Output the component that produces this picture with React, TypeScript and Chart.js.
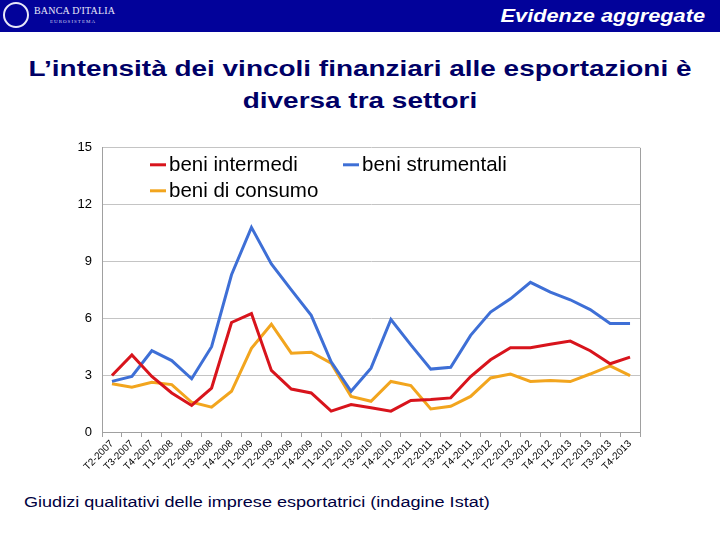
import React, { useEffect, useRef } from "react";
import { Chart, registerables } from "chart.js";
Chart.register(...registerables);

const categories = [
  "T2-2007", "T3-2007", "T4-2007",
  "T1-2008", "T2-2008", "T3-2008", "T4-2008",
  "T1-2009", "T2-2009", "T3-2009", "T4-2009",
  "T1-2010", "T2-2010", "T3-2010", "T4-2010",
  "T1-2011", "T2-2011", "T3-2011", "T4-2011",
  "T1-2012", "T2-2012", "T3-2012", "T4-2012",
  "T1-2013", "T2-2013", "T3-2013", "T4-2013",
];

const beniIntermedi = [
  2.98, 4.07, 2.93, 2.06, 1.4, 2.32, 5.78, 6.25, 3.25, 2.27, 2.06, 1.1, 1.45, 1.28,
  1.1, 1.66, 1.71, 1.8, 2.93, 3.81, 4.45, 4.45, 4.63, 4.8, 4.29, 3.6, 3.95,
];

const beniStrumentali = [
  2.67, 2.93, 4.29, 3.77, 2.81, 4.5, 8.3, 10.8, 8.87, 7.5, 6.16, 3.7, 2.15, 3.37,
  5.94, 4.6, 3.32, 3.42, 5.1, 6.33, 7.03, 7.9, 7.38, 6.98, 6.46, 5.73, 5.73,
];

const beniConsumo = [
  2.55, 2.36, 2.62, 2.5, 1.57, 1.31, 2.15, 4.42, 5.69, 4.16, 4.21, 3.63, 1.88, 1.62,
  2.67, 2.45, 1.22, 1.36, 1.88, 2.85, 3.06, 2.67, 2.72, 2.66, 3.06, 3.49, 2.98,
];

const seriesLabels = ["beni intermedi", "beni strumentali", "beni di consumo"];
const seriesColors = ["#d8141c", "#3e6fd6", "#f2a51e"];
const yTicks = [0, 3, 6, 9, 12, 15];

const frameAndLegend = {
  id: "frameAndLegend",
  afterDraw(chart: any) {
    const { ctx, chartArea } = chart;
    ctx.save();
    ctx.strokeStyle = "#a0a0a0";
    ctx.lineWidth = 1;
    ctx.beginPath();
    ctx.moveTo(Math.round(chartArea.right) + 0.5, chartArea.top);
    ctx.lineTo(Math.round(chartArea.right) + 0.5, chartArea.bottom);
    ctx.stroke();
    // legend
    const ds = chart.data.datasets;
    const pos = [
      { x: 48, y: 17 },
      { x: 241, y: 17 },
      { x: 48, y: 43 },
    ];
    ctx.font = "20.5px 'Liberation Sans', Arial, sans-serif";
    ctx.textBaseline = "middle";
    ds.forEach((d: any, i: number) => {
      const p = pos[i];
      const x = chartArea.left + p.x;
      const y = chartArea.top + p.y;
      ctx.strokeStyle = d.borderColor;
      ctx.lineWidth = 3;
      ctx.beginPath();
      ctx.moveTo(x, y);
      ctx.lineTo(x + 16, y);
      ctx.stroke();
      ctx.fillStyle = "#000000";
      ctx.fillText(d.label, x + 19, y + 1);
    });
    ctx.restore();
  },
};

export default function App() {
  const ref = useRef<HTMLCanvasElement | null>(null);
  useEffect(() => {
    document.body.style.margin = "0";
    if (!ref.current) return;
    const chart = new Chart(ref.current, {
      type: "line",
      data: {
        labels: categories,
        datasets: [beniIntermedi, beniStrumentali, beniConsumo].map((v, i) => ({
          label: seriesLabels[i],
          data: v,
          borderColor: seriesColors[i],
          backgroundColor: seriesColors[i],
          borderWidth: 3,
          pointRadius: 0,
          tension: 0,
          fill: false,
        })),
      },
      options: {
        animation: false,
        responsive: false,
        maintainAspectRatio: false,
        layout: { padding: { left: 0, right: 80, top: 16, bottom: 0 } },
        plugins: { legend: { display: false }, tooltip: { enabled: false } },
        scales: {
          x: {
            type: "category",
            offset: true,
            grid: {
              offset: true,
              drawOnChartArea: false,
              drawTicks: true,
              tickLength: 5,
              color: "#a0a0a0",
            },
            border: { display: true, color: "#a0a0a0" },
            ticks: {
              autoSkip: false,
              minRotation: 45,
              maxRotation: 45,
              padding: 1,
              color: "#000000",
              font: { size: 10, family: "'Liberation Sans', Arial, sans-serif" },
            },
            afterFit: (s: any) => {
              s.height = 58;
            },
          },
          y: {
            min: 0,
            max: 15,
            afterBuildTicks: (s: any) => {
              s.ticks = yTicks.map((v) => ({ value: v }));
            },
            grid: { color: "#c4c4c4", drawTicks: false, lineWidth: 1 },
            border: { display: true, color: "#a0a0a0" },
            ticks: {
              padding: 10,
              color: "#000000",
              font: { size: 13, family: "'Liberation Sans', Arial, sans-serif" },
            },
            afterFit: (s: any) => {
              s.width = 102;
            },
          },
        },
      },
      plugins: [frameAndLegend],
    });
    return () => chart.destroy();
  }, []);

  return (
    <div
      style={{
        position: "fixed",
        left: 0,
        top: 0,
        width: 720,
        height: 540,
        background: "#ffffff",
        overflow: "hidden",
        fontFamily: "'Liberation Sans', Arial, sans-serif",
      }}
    >
      <div
        style={{
          position: "absolute",
          left: 0,
          top: 0,
          width: 720,
          height: 32,
          background: "#02029a",
        }}
      >
        <div
          style={{
            position: "absolute",
            left: 3,
            top: 2,
            width: 26,
            height: 26,
            borderRadius: 13,
            border: "2px solid #e8e8f8",
            boxSizing: "border-box",
          }}
        />
        <div
          style={{
            position: "absolute",
            left: 34,
            top: 5,
            color: "#e8e8f8",
            fontFamily: "'Liberation Serif', serif",
            fontSize: 10,
            letterSpacing: 0.2,
          }}
        >
          BANCA D'ITALIA
        </div>
        <div
          style={{
            position: "absolute",
            left: 50,
            top: 19,
            color: "#d0d0f0",
            fontFamily: "'Liberation Serif', serif",
            fontSize: 5,
            letterSpacing: 1,
          }}
        >
          EUROSISTEMA
        </div>
        <div
          style={{
            position: "absolute",
            right: 15,
            top: 5,
            color: "#ffffff",
            fontSize: 18,
            lineHeight: "22px",
            fontWeight: "bold",
            fontStyle: "italic",
            transform: "scaleX(1.21)",
            transformOrigin: "right center",
            whiteSpace: "nowrap",
          }}
        >
          Evidenze aggregate
        </div>
      </div>
      <div
        style={{
          position: "absolute",
          left: 0,
          top: 53,
          width: 720,
          textAlign: "center",
          color: "#000066",
          fontSize: 22,
          fontWeight: "bold",
          lineHeight: "32px",
          transform: "scaleX(1.27)",
          transformOrigin: "center center",
        }}
      >
        L’intensità dei vincoli finanziari alle esportazioni è
        <br />
        diversa tra settori
      </div>
      <canvas
        ref={ref}
        width={720}
        height={360}
        style={{ position: "absolute", left: 0, top: 130, width: 720, height: 360 }}
      />
      <div
        style={{
          position: "absolute",
          left: 24,
          top: 493,
          color: "#000040",
          fontSize: 14,
          lineHeight: "18px",
          transform: "scaleX(1.29)",
          transformOrigin: "left center",
          whiteSpace: "nowrap",
        }}
      >
        Giudizi qualitativi delle imprese esportatrici (indagine Istat)
      </div>
    </div>
  );
}
